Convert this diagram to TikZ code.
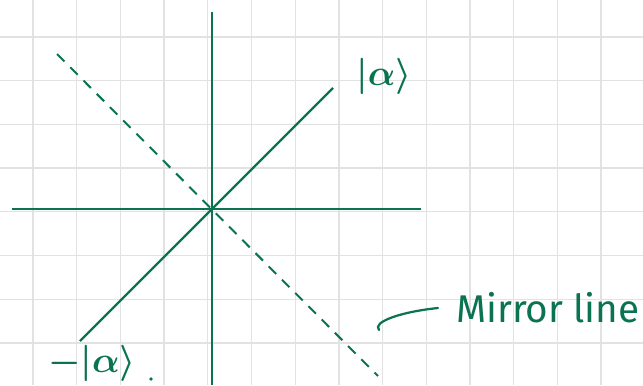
\RequirePackage{fix-cm}
\documentclass[tikz,border=0pt]{standalone}
\usepackage{amsmath,amssymb}
\usepackage{fontspec}
\setsansfont{Fira Sans}
\usetikzlibrary{positioning,calc}
\definecolor{ink}{HTML}{0A7352}
\definecolor{paper}{HTML}{E2E2E2}

\begin{document}
\begin{tikzpicture}[x=0.3mm, y=-0.3mm,
    gridline/.style={draw=paper, line width=1.1pt},
    axis/.style={draw=ink, line width=1.9pt},
    mirror/.style={draw=ink, line width=1.7pt, dash pattern=on 9pt off 7pt},
    label/.style={text=ink, font=\fontsize{31}{33}\selectfont\boldmath}]
  \useasboundingbox (0,0) rectangle (643,385);
  \fill[white] (0,0) rectangle (643,385);
  % paper grid
  \foreach \k in {0,...,13} \draw[gridline] (33+43.7*\k,0) -- (33+43.7*\k,385);
  \foreach \k in {0,...,7} \draw[gridline] (0,37+43.7*\k) -- (643,37+43.7*\k);

  \coordinate (O) at (212,209);
  \coordinate (top) at (212,12);
  \coordinate (bottom) at (212,385);
  \coordinate (left) at (12,209);
  \coordinate (right) at (421,209);
  \coordinate (ket) at (333,88);
  \coordinate (negket) at (80,341);
  \coordinate (mtop) at (57,54);
  \coordinate (mbot) at (378,376);

  % axes
  \draw[axis] (top) -- (bottom);
  \draw[axis] (left) -- (right);
  % state and its negative
  \draw[axis] (negket) -- (ket);
  % mirror line
  \draw[mirror] (mtop) -- (mbot);

  \node[label] (ketlab) at (384,76) {$|\alpha\rangle$};
  \node[label] (negketlab) at (92,363) {$-|\alpha\rangle$};
  \fill[ink] (151,379) circle (1.8);
  \node[label, font=\sffamily\fontsize{33}{35}\selectfont, anchor=west] (mirrorlab) at (452,308) {Mirror line};
  \coordinate (tail) at (379,330);
  \draw[ink, line width=1.9pt, line cap=round] (tail) .. controls (372,322) and (400,312) .. ([xshift=-12pt]mirrorlab.west);
\end{tikzpicture}
\end{document}
